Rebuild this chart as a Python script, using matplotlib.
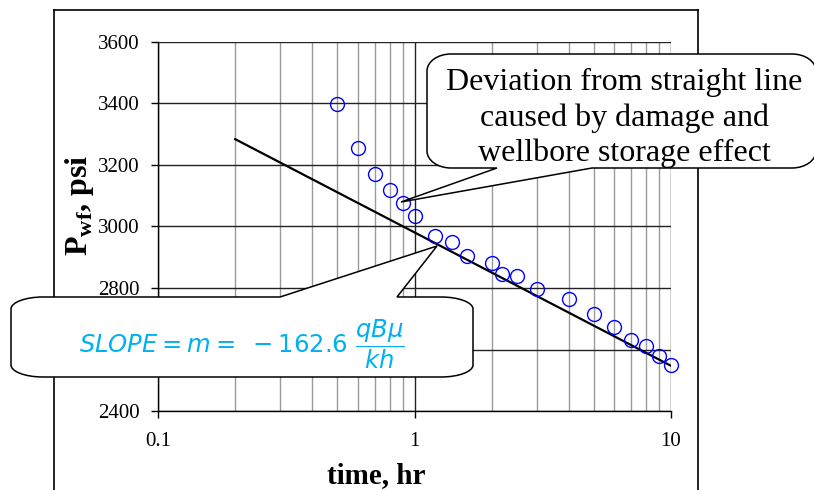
import numpy as np
import matplotlib
matplotlib.use("Agg")
import matplotlib.pyplot as plt
import matplotlib.ticker as ticker
from matplotlib.path import Path
from matplotlib.patches import PathPatch
from matplotlib.lines import Line2D

plt.rcParams['font.family'] = ['Liberation Serif', 'DejaVu Serif']
plt.rcParams['mathtext.fontset'] = 'custom'
plt.rcParams['mathtext.bf'] = 'Liberation Serif:bold'
plt.rcParams['mathtext.rm'] = 'Liberation Serif'

# data
time_hr = [0.5, 0.6, 0.7, 0.8, 0.9, 1.0, 1.2, 1.4, 1.6, 2.0,
           2.2, 2.5, 3.0, 4.0, 5.0, 6.0, 7.0, 8.0, 9.0, 10.0]
pwf_psi = [3398, 3255, 3171, 3119, 3078, 3034, 2970, 2949, 2905, 2882,
           2846, 2839, 2796, 2763, 2715, 2672, 2631, 2611, 2579, 2551]
line_t = [0.2, 10.0]
line_p = [3284, 2547]

W, H = 814, 490
fig = plt.figure(figsize=(W / 100, H / 100), dpi=100)
ax = fig.add_axes([158 / W, 1 - 411 / H, (671 - 158) / W, (411 - 42) / H])

ax.set_xscale('log')
ax.set_xlim(0.1, 10)
ax.set_ylim(2400, 3600)

ax.plot(line_t, line_p, color='black', linewidth=1.6, zorder=3)
ax.plot(time_hr, pwf_psi, linestyle='none', marker='o', markersize=10, clip_on=False,
        markerfacecolor='none', markeredgecolor='#0000ff', markeredgewidth=1.0, zorder=4)

ax.yaxis.set_major_locator(ticker.MultipleLocator(200))
ax.xaxis.set_major_locator(ticker.LogLocator(base=10, numticks=5))
ax.xaxis.set_minor_locator(ticker.LogLocator(base=10, subs=np.arange(2, 10), numticks=20))
ax.xaxis.set_major_formatter(ticker.FuncFormatter(lambda v, p: '%g' % v))
ax.xaxis.set_minor_formatter(ticker.NullFormatter())

ax.grid(True, which='major', axis='y', color='#222222', linewidth=1.0)
ax.grid(True, which='major', axis='x', color='#222222', linewidth=1.0)
ax.grid(True, which='minor', axis='x', color='#9a9a9a', linewidth=1.0)
ax.set_axisbelow(True)

for s in ['top', 'right']:
    ax.spines[s].set_visible(False)
ax.spines['left'].set_linewidth(1.0)
ax.spines['bottom'].set_linewidth(1.0)
ax.tick_params(axis='y', which='major', direction='out', length=5, width=1, pad=8, labelsize=15)
ax.tick_params(axis='x', which='major', direction='out', length=5, width=1, pad=10, labelsize=15)
ax.tick_params(axis='x', which='minor', length=0)

# axis labels
fig.text(80 / W, 1 - 205 / H, r'$\mathbf{P}_{\mathbf{wf}}$, psi', rotation=90,
         fontsize=23, fontweight='bold', ha='center', va='center')
fig.text(376 / W, 1 - 483 / H, 'time, hr', fontsize=21, fontweight='bold',
         ha='center', va='baseline')

# outer frame
for xs, ys in [([54, 54], [10, 495]), ([54, 698], [10, 10]), ([698, 698], [10, 495])]:
    fig.add_artist(Line2D([x / W for x in xs], [1 - y / H for y in ys],
                          transform=fig.transFigure, color='black', linewidth=1.2))


def callout(x0, y0, x1, y1, rx, ry, side, wa, wb, tip):
    # rounded box with a wedge, built in pixel coords (y down)
    k = 0.5523
    v, c = [], []

    def mv(p):
        v.append(p); c.append(Path.MOVETO)

    def ln(p):
        v.append(p); c.append(Path.LINETO)

    def cb(p1, p2, p3):
        v.extend([p1, p2, p3]); c.extend([Path.CURVE4] * 3)

    mv((x0 + rx, y0))
    if side == 'top':
        ln((wa, y0)); ln(tip); ln((wb, y0))
    ln((x1 - rx, y0))
    cb((x1 - rx + k * rx, y0), (x1, y0 + ry - k * ry), (x1, y0 + ry))
    ln((x1, y1 - ry))
    cb((x1, y1 - ry + k * ry), (x1 - rx + k * rx, y1), (x1 - rx, y1))
    if side == 'bottom':
        ln((wb, y1)); ln(tip); ln((wa, y1))
    ln((x0 + rx, y1))
    cb((x0 + rx - k * rx, y1), (x0, y1 - ry + k * ry), (x0, y1 - ry))
    ln((x0, y0 + ry))
    cb((x0, y0 + ry - k * ry), (x0 + rx - k * rx, y0), (x0 + rx, y0))
    c.append(Path.CLOSEPOLY); v.append((x0 + rx, y0))
    v = [(x / W, 1 - y / H) for x, y in v]
    patch = PathPatch(Path(v, c), facecolor='white', edgecolor='black',
                      linewidth=1.1, transform=fig.transFigure, zorder=10)
    fig.add_artist(patch)
    return patch


p1 = callout(427, 54, 816, 168, 24, 17, 'bottom', 497, 592, (401, 202))
t1 = fig.text(624 / W, 1 - 118 / H,
              'Deviation from straight line\ncaused by damage and\nwellbore storage effect',
              fontsize=23, ha='center', va='center', linespacing=1.28, zorder=11)
t1.set_clip_path(p1)

p2 = callout(11, 297, 473, 377, 32, 12, 'top', 280, 397, (437, 246))
t2 = fig.text(242 / W, 1 - 353 / H, r'$SLOPE = m =\ -162.6\ \dfrac{qB\mu}{kh}$',
              fontsize=17.5, color='#00b0f0', ha='center', va='baseline', zorder=11,
              math_fontfamily='dejavusans')
t2.set_clip_path(p2)

fig.savefig('out.png', dpi=100)
